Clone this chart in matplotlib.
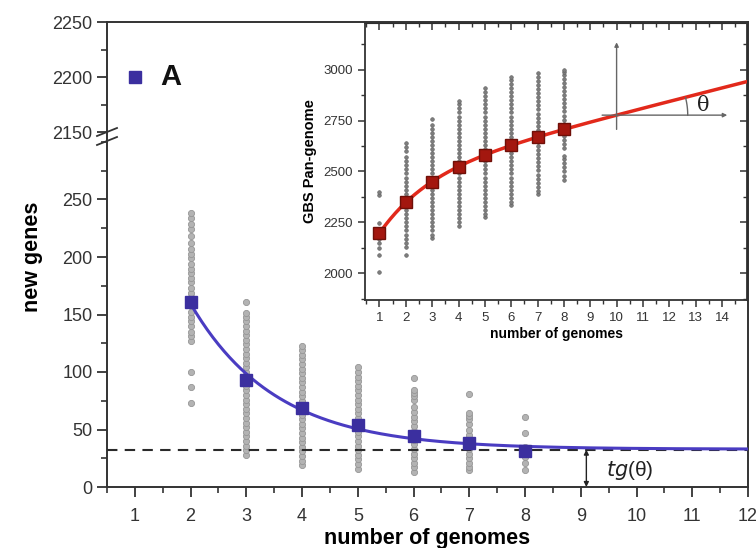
import numpy as np
import matplotlib
matplotlib.use("Agg")
import matplotlib.pyplot as plt
from matplotlib.lines import Line2D
from matplotlib.ticker import MultipleLocator, FixedLocator

plt.rcParams['font.family'] = ['Liberation Sans', 'DejaVu Sans']

# ---------------- data ----------------
genomes = [2, 3, 4, 5, 6, 7, 8]
new_genes_mean = [161, 93, 69, 54, 44, 38, 31]
tg_theta = 32.5

new_genes_samples = {
    2: [73, 87, 100, 127, 131, 135, 140, 144, 148, 152, 157, 161, 165, 169, 173, 178,
        182, 186, 190, 194, 199, 203, 207, 212, 218, 224, 229, 234, 238],
    3: [28, 32, 36, 40, 44, 48, 52, 56, 60, 64, 68, 72, 76, 80, 84, 88, 92, 96, 100,
        104, 108, 112, 116, 120, 124, 128, 132, 136, 140, 144, 148, 151, 161],
    4: [19, 23, 27, 31, 35, 39, 43, 47, 51, 55, 59, 63, 67, 71, 75, 79, 83, 87, 91,
        95, 99, 103, 107, 111, 115, 119, 123],
    5: [16, 20, 24, 28, 32, 36, 40, 44, 48, 52, 56, 60, 64, 68, 72, 76, 80, 84, 88,
        92, 96, 100, 104],
    6: [13, 17, 21, 25, 29, 33, 37, 41, 45, 49, 53, 57, 61, 65, 70, 76, 79, 82, 84, 95],
    7: [15, 17, 21, 25, 29, 33, 37, 41, 45, 50, 55, 59, 62, 64, 81],
    8: [15, 21, 26, 35, 47, 61],
}

pan_genomes = [1, 2, 3, 4, 5, 6, 7, 8]
pan_mean = [2195, 2352, 2450, 2520, 2580, 2628, 2670, 2708]

pan_samples = {
    1: [2005, 2090, 2125, 2150, 2170, 2195, 2245, 2385, 2400],
    2: [2090, 2130, 2150, 2170, 2190, 2210, 2230, 2250, 2270, 2290, 2310, 2330, 2350,
        2370, 2390, 2410, 2430, 2450, 2470, 2490, 2510, 2530, 2550, 2570, 2600, 2620, 2642],
    3: [2172, 2190, 2210, 2230, 2250, 2270, 2290, 2310, 2330, 2350, 2370, 2390, 2410,
        2430, 2450, 2470, 2490, 2510, 2530, 2550, 2570, 2590, 2610, 2630, 2650, 2670,
        2690, 2710, 2730, 2760],
    4: [2230, 2250, 2270, 2290, 2310, 2330, 2350, 2370, 2390, 2410, 2430, 2450, 2470,
        2490, 2510, 2530, 2550, 2570, 2590, 2610, 2630, 2650, 2670, 2690, 2710, 2730,
        2750, 2770, 2790, 2810, 2830, 2848],
    5: [2274, 2290, 2310, 2330, 2350, 2370, 2390, 2410, 2430, 2450, 2470, 2490, 2510,
        2530, 2550, 2570, 2590, 2610, 2630, 2650, 2670, 2690, 2710, 2730, 2750, 2770,
        2790, 2810, 2830, 2850, 2870, 2890, 2911],
    6: [2333, 2350, 2370, 2390, 2410, 2430, 2450, 2470, 2490, 2510, 2530, 2550, 2570,
        2590, 2610, 2630, 2650, 2670, 2690, 2710, 2730, 2750, 2770, 2790, 2810, 2830,
        2850, 2870, 2890, 2910, 2930, 2950, 2965],
    7: [2387, 2405, 2425, 2445, 2465, 2485, 2505, 2525, 2545, 2565, 2585, 2605, 2625,
        2645, 2665, 2685, 2705, 2725, 2745, 2765, 2785, 2805, 2825, 2845, 2865, 2885,
        2905, 2925, 2945, 2965, 2985],
    8: [2460, 2480, 2500, 2520, 2540, 2560, 2575, 2615, 2635, 2655, 2675, 2695, 2715,
        2735, 2755, 2775, 2795, 2815, 2835, 2855, 2875, 2895, 2915, 2935, 2955, 2975,
        2990, 3000],
}

main_xticks = list(range(1, 13))
inset_xticks = list(range(1, 15))

# ---------------- fits (computed from the read values) ----------------
gx = np.array(genomes, float)
gy = np.array(new_genes_mean, float)
best = None
for b in np.linspace(0.05, 2.0, 800):
    A = np.vstack([np.exp(-b * gx), np.ones_like(gx)]).T
    coef, *_ = np.linalg.lstsq(A, gy, rcond=None)
    sse = np.sum((A @ coef - gy) ** 2)
    if best is None or sse < best[0]:
        best = (sse, b, coef)
_, fb, (fa_, fc) = best

def new_fit(x):
    return fa_ * np.exp(-fb * x) + fc

px = np.array(pan_genomes, float)
py = np.array(pan_mean, float) - fc * px
bestp = None
for s in np.linspace(0.05, 2.0, 800):
    A = np.vstack([np.ones_like(px), np.exp(-s * px)]).T
    coef, *_ = np.linalg.lstsq(A, py, rcond=None)
    sse = np.sum((A @ coef - py) ** 2)
    if bestp is None or sse < bestp[0]:
        bestp = (sse, s, coef)
_, ps, (pp, pr) = bestp

def pan_fit(x):
    return pp + fc * x + pr * np.exp(-ps * x)

# ---------------- figure ----------------
W, H = 756, 548
fig = plt.figure(figsize=(W / 100, H / 100), dpi=100)

def box(l, t, r, b):
    return [l / W, 1 - b / H, (r - l) / W, (b - t) / H]

ink = '#333333'
blue_sq = '#3b2f9f'
blue_ln = '#4a3cc2'
dot_face = '#b3b3b3'
dot_edge = '#969696'

ax_lo = fig.add_axes(box(107, 142, 748, 487))
ax_hi = fig.add_axes(box(107, 22, 748, 142))

xmin, xmax = 0.5, 12.0
for ax in (ax_lo, ax_hi):
    ax.set_xlim(xmin, xmax)
    for sp in ax.spines.values():
        sp.set_color(ink)
        sp.set_linewidth(1.4)
    ax.tick_params(which='major', direction='out', length=7, width=1.3,
                   colors=ink, labelsize=13)
    ax.tick_params(which='minor', direction='out', length=4, width=1.2, colors=ink)

ax_lo.set_ylim(0, 300)
ax_lo.spines['top'].set_visible(False)
ax_lo.set_xticks(main_xticks)
ax_lo.xaxis.set_minor_locator(MultipleLocator(0.5))
ax_lo.set_yticks([0, 50, 100, 150, 200, 250])
ax_lo.yaxis.set_minor_locator(MultipleLocator(25))
ax_lo.tick_params(axis='x', which='major', pad=8)

ax_hi.set_ylim(2141, 2250)
ax_hi.spines['bottom'].set_visible(False)
ax_hi.set_xticks([])
ax_hi.set_xticks([], minor=True)
ax_hi.set_yticks([2150, 2200, 2250])
ax_hi.yaxis.set_minor_locator(MultipleLocator(25))

# gray sample dots
for g, vals in new_genes_samples.items():
    ax_lo.scatter([g] * len(vals), vals, s=20, facecolor=dot_face,
                  edgecolor=dot_edge, linewidths=0.6, zorder=2)

# dashed asymptote
ax_lo.plot([xmin, xmax], [tg_theta, tg_theta], ls=(0, (5, 3.5)), color='#2a2a2a',
           lw=1.5, zorder=3)

# fitted curve
xc = np.linspace(genomes[0], xmax, 300)
ax_lo.plot(xc, new_fit(xc), color=blue_ln, lw=2.2, zorder=4)
ax_lo.plot(genomes, new_genes_mean, ls='none', marker='s', ms=9,
           mfc=blue_sq, mec=blue_sq, zorder=5)

# tg(theta) arrow
ax_lo.annotate('', xy=(9.1, 0), xytext=(9.1, tg_theta),
               arrowprops=dict(arrowstyle='<|-|>', color='#222222', lw=1.0,
                               mutation_scale=7, shrinkA=0, shrinkB=0), zorder=6)
ax_lo.text(9.45, 14, r'$tg$(θ)', fontsize=15, color='#222222', va='center',
           ha='left', zorder=6)

ax_lo.set_xlabel('number of genomes', fontsize=15.5, fontweight='bold', labelpad=2)
ax_lo.set_ylabel('new genes', fontsize=15.5, fontweight='bold')
ax_lo.yaxis.set_label_coords(-0.1, 0.667)

# legend-like label
ax_hi.plot([1.0], [2200], ls='none', marker='s', ms=8, mfc=blue_sq, mec=blue_sq)
ax_hi.text(1.45, 2200, 'A', fontsize=21, fontweight='bold', va='center', ha='left',
           color='#111111')

# axis break marks
for yy in (136, 145):
    fig.add_artist(Line2D([97 / W, 117 / W], [1 - yy / H, 1 - (yy - 8) / H],
                          color=ink, lw=1.3, transform=fig.transFigure))

# ---------------- inset ----------------
ax_in = fig.add_axes(box(365, 23, 747, 300))
ax_in.set_zorder(10)
ax_in.set_facecolor('white')
ax_in.set_xlim(0.45, 14.95)
ax_in.set_ylim(1868, 3230)
for sp in ax_in.spines.values():
    sp.set_color(ink)
    sp.set_linewidth(1.3)
ax_in.set_xticks(inset_xticks)
ax_in.xaxis.set_minor_locator(MultipleLocator(0.5))
ax_in.set_yticks([2000, 2250, 2500, 2750, 3000])
ax_in.yaxis.set_minor_locator(MultipleLocator(125))
ax_in.tick_params(which='major', direction='out', length=5, width=1.1, colors=ink,
                  labelsize=9.5)
ax_in.tick_params(which='minor', direction='out', length=3, width=1.0, colors=ink)
ax_in.tick_params(which='both', top=False, right=False)
# top/right ticks point inward
sec_x = ax_in.secondary_xaxis('top')
sec_x.set_xticks(inset_xticks)
sec_x.xaxis.set_minor_locator(MultipleLocator(0.5))
sec_x.tick_params(which='major', direction='in', length=5, width=1.1, colors=ink,
                  labeltop=False)
sec_x.tick_params(which='minor', direction='in', length=3, width=1.0, colors=ink)
sec_y = ax_in.secondary_yaxis('right')
sec_y.set_yticks([2000, 2250, 2500, 2750, 3000])
sec_y.yaxis.set_minor_locator(MultipleLocator(125))
sec_y.tick_params(which='major', direction='in', length=5, width=1.1, colors=ink,
                  labelright=False)
sec_y.tick_params(which='minor', direction='in', length=3, width=1.0, colors=ink)

for g, vals in pan_samples.items():
    ax_in.scatter([g] * len(vals), vals, s=7, facecolor='#7d7d7d',
                  edgecolor='#5e5e5e', linewidths=0.4, zorder=2)

xi = np.linspace(pan_genomes[0], 14.95, 300)
ax_in.plot(xi, pan_fit(xi), color='#e2291b', lw=2.5, zorder=3)
ax_in.plot(pan_genomes, pan_mean, ls='none', marker='s', ms=8, mfc='#a3170f',
           mec='#6f0f08', mew=1.0, zorder=4)

# theta construction
x0 = 10.0
y0 = pan_fit(x0)
ax_in.annotate('', xy=(x0, 3135), xytext=(x0, y0 - 70),
               arrowprops=dict(arrowstyle='-|>', color='#666666', lw=1.0,
                               mutation_scale=6, shrinkA=0, shrinkB=0), zorder=5)
ax_in.annotate('', xy=(14.2, y0), xytext=(9.45, y0),
               arrowprops=dict(arrowstyle='-|>', color='#666666', lw=1.0,
                               mutation_scale=6, shrinkA=0, shrinkB=0), zorder=5)
rx = 2.7
ry = rx * (26.45 / 0.204)
t_end = np.arctan(fc * rx / ry)
tt = np.linspace(0, t_end, 30)
ax_in.plot(x0 + rx * np.cos(tt), y0 + ry * np.sin(tt), color='#666666', lw=1.0,
           zorder=5)
ax_in.text(13.3, y0 + 45, 'θ', fontsize=15, family=['DejaVu Serif'], ha='center',
           va='center', color='#222222', zorder=6)

ax_in.set_xlabel('number of genomes', fontsize=10, fontweight='bold', labelpad=2)
ax_in.set_ylabel('GBS Pan-genome', fontsize=10.5, fontweight='bold', labelpad=5)

fig.savefig('out.png', dpi=100)
